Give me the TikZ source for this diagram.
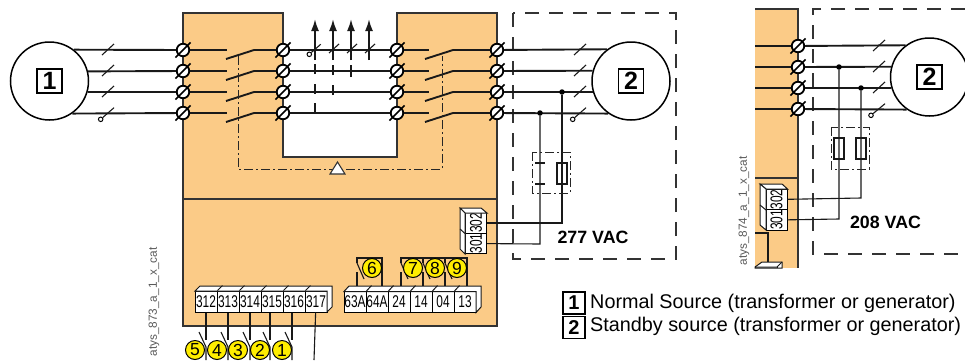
\documentclass[tikz,border=0pt]{standalone}
\usepackage{fontspec}
\setmainfont{Liberation Sans}
\newfontfamily\narrowfont[FakeStretch=0.7]{Liberation Sans}
\usetikzlibrary{positioning,arrows.meta}
\definecolor{panel}{HTML}{FBCB87}
\definecolor{lemon}{HTML}{FFED00}
\definecolor{edge}{HTML}{333333}
\begin{document}
\begin{tikzpicture}[x=1pt,y=-1pt,node distance=21pt,on grid,
	wire/.style={line width=1.9pt,draw=black!90},
	thinwire/.style={line width=1.1pt,draw=black!90},
	wall/.style={line width=1.1pt,draw=edge},
	dashdot/.style={line width=1pt,draw=black!85,dash pattern=on 9pt off 3pt on 2pt off 3pt},
	outer/.style={line width=1.2pt,draw=black!80,dash pattern=on 14pt off 10pt},
	screw/.style={circle,draw,fill=white,line width=1.8pt,inner sep=0pt,minimum size=12.5pt,append after command={(\tikzlastnode.south west) edge[line width=1.7pt,shorten <=-3.5pt,shorten >=-3.5pt] (\tikzlastnode.north east)}},
	source/.style={circle,draw,fill=white,line width=1.5pt,inner sep=0pt,minimum size=78pt},
	numbox/.style={draw,line width=1.1pt,inner sep=0pt,minimum width=25pt,minimum height=24pt,font=\fontsize{25}{25}\selectfont\bfseries},
	keybox/.style={draw,line width=1.1pt,inner sep=0pt,minimum width=22pt,minimum height=22pt,font=\fontsize{20}{20}\selectfont\bfseries},
	cell/.style={draw,fill=white,line width=1pt,inner sep=0pt,minimum width=22pt,minimum height=21pt,font=\narrowfont\fontsize{17}{17}\selectfont},
	badge/.style={circle,draw,fill=lemon,line width=1pt,inner sep=0pt,minimum size=19pt,font=\fontsize{17.5}{17.5}\selectfont},
	tap/.style={circle,fill=black,inner sep=0pt,minimum size=5.5pt},
	ring/.style={circle,draw,fill=white,line width=1pt,inner sep=0pt,minimum size=4.5pt},
	tagtext/.style={rotate=90,text=black!65,font=\fontsize{11.8}{12}\selectfont},
	voltage/.style={font=\fontsize{17.8}{18}\selectfont\bfseries},
	legend/.style={anchor=base west,inner sep=0pt,font=\fontsize{19.8}{20}\selectfont}]
	\useasboundingbox (0,0) rectangle (965,360);

	\filldraw[wall,fill=panel] (183,13) -- (283,13) -- (283,157) -- (397,157) -- (397,13) -- (497,13) -- (497,326) -- (183,326) -- cycle;
	\draw[wall] (183,199) -- (497,199);
	\fill[panel] (755,9) rectangle (798,268);
	\draw[wall] (755,9) -- (798,9) -- (798,268);
	\draw[wall] (755,178) -- (798,178);
	\draw[outer] (513,13) rectangle (676,259);
	\draw[outer] (965,9) -- (813,9) -- (813,254) -- (965,254);

	\node[source]				(s1)	at (49.5,81)	{};
	\node[source]				(s2)	at (631,81)		{};
	\node[source]				(s3)	at (929.5,77)	{};
	\node[numbox]				(l1)	at (s1)			{1};
	\node[numbox]				(l2)	at (s2)			{2};
	\node[numbox]				(l3)	at (s3)			{2};

	\node[screw]				(a1)	at (183,50)		{};
	\node[screw,right=100pt of a1]	(b1)	{};
	\node[screw,right=114pt of b1]	(c1)	{};
	\node[screw,right=100pt of c1]	(d1)	{};
	\node[screw]				(e1)	at (798,46)		{};
	\foreach \col in {a,b,c,d,e} {
		\node[screw,below=of \col1]	(\col2)	{};
		\node[screw,below=of \col2]	(\col3)	{};
		\node[screw,below=of \col3]	(\col4)	{};
	}

	\foreach \i/\y/\ang in {1/50/52.6,2/71/14.9,3/92/-16.4,4/113/-55.1} {
		\coordinate	(p\i)	at (227,\y);
		\coordinate	(q\i)	at (254,\y);
		\coordinate	(u\i)	at (429,\y);
		\coordinate	(v\i)	at (453,\y);
		\draw[wire] (s1.\ang) -- (a\i);
		\draw[wire] (a\i) -- (p\i);
		\draw[wire] (q\i) -- (b\i);
		\draw[wire] (b\i) -- (c\i);
		\draw[wire] (c\i) -- (u\i);
		\draw[wire] (v\i) -- (d\i);
		\draw[wire] (d\i) -- (s2.180-\ang);
		\draw[wire] (e\i) -- (s3.180-\ang);
		\draw[wire] (e\i) -- (e\i -| 755,0);
		\draw[wire] (226,\y+9) -- (q\i);
		\draw[wire] (425,\y+9) -- (v\i);
	}

	\foreach \x/\y in {108/50,108/71,108/92,580/50,580/71,580/92} {
		\draw[thinwire] (\x-6,\y+5) -- (\x+6,\y-6);
	}
	\foreach \x/\y in {879/46,879/67,879/88} {
		\draw[thinwire] (\x-6,\y+5) -- (\x+6,\y-6);
	}
	\node[ring]					(r1)	at (100.7,119.3)	{};
	\node[ring]					(r2)	at (572.7,119.3)	{};
	\node[ring]					(r3)	at (871,115.3)		{};
	\node[ring]					(r4)	at (309.3,54.3)		{};
	\draw[thinwire] (r1) -- (114,107.7);
	\draw[thinwire] (r2) -- (586,107.7);
	\draw[thinwire] (r3) -- (885,103.7);
	\draw[thinwire] (r4) -- (320.7,44.3);
	\foreach \x in {333,351,369} {
		\draw[thinwire] (\x-4,53) -- (\x+6,44);
	}

	\foreach \x in {315,333,351,369} {
		\draw[wire,-{Latex[length=12pt,width=8pt]}] (\x,60) -- (\x,19);
	}
	\draw[wire,dash pattern=on 10pt off 9.5pt] (315,113) -- (315,60);
	\draw[wire,dash pattern=on 10pt off 10pt] (333,95) -- (333,62);
	\draw[wire] (351,77) -- (351,65);

	\draw[dashdot] (238,56) -- (238,169) -- (442,169) -- (442,56);
	\filldraw[wall,fill=white] (337.5,162) -- (345,174) -- (330,174) -- cycle;

	\node[tap]					(t1)	at (562,92)		{};
	\node[tap]					(t2)	at (540,113)	{};
	\node[tap]					(t3)	at (861,88)		{};
	\node[tap]					(t4)	at (839,67)		{};
	\node[cell,rotate=90,minimum width=20.5pt]	(n302)	at (476,223)	{302};
	\node[cell,rotate=90,minimum width=20.5pt]	(n301)	at (476,243.5)	{301};
	\node[cell,rotate=90,minimum width=20.5pt]	(m302)	at (776.5,199.5)	{302};
	\node[cell,rotate=90,minimum width=20.5pt]	(m301)	at (776.5,220)	{301};
	\filldraw[thinwire,line width=1pt,fill=white] (465,213) -- (460,208) -- (481,208) -- (487,213) -- cycle;
	\filldraw[thinwire,line width=1pt,fill=white] (465,213) -- (460,208) -- (460,249) -- (465,254) -- cycle;
	\draw[thinwire,line width=1pt] (460,229) -- (465,233.5);
	\filldraw[thinwire,line width=1pt,fill=white] (766,189) -- (760,184) -- (782,184) -- (787.5,189) -- cycle;
	\filldraw[thinwire,line width=1pt,fill=white] (766,189) -- (760,184) -- (760,225) -- (766,230) -- cycle;
	\draw[thinwire,line width=1pt] (760,205) -- (766,210);
	\coordinate	(w1)	at (562,223);
	\coordinate	(w2)	at (540,244);
	\coordinate	(w3)	at (861,198);
	\coordinate	(w4)	at (839,219);
	\draw[thinwire] (t1) -- (w1) -- (n302);
	\draw[thinwire] (t2) -- (w2) -- (n301);
	\draw[thinwire] (t3) -- (w3) -- (m302);
	\draw[thinwire] (t4) -- (w4) -- (m301);

	\draw[dashdot] (532,152) rectangle (570,193);
	\draw[thinwire] (535,163) -- (545,163);
	\draw[thinwire] (535,184) -- (545,184);
	\draw[thinwire] (557,163) rectangle (567,184);
	\draw[dashdot] (831,127) rectangle (869,169);
	\draw[thinwire] (834,138) rectangle (844,159);
	\draw[thinwire] (856,138) rectangle (866,159);

	\node[cell]					(n312)	at (206,301.5)	{312};
	\node[cell,right=22pt of n312]	(n313)	{313};
	\node[cell,right=22pt of n313]	(n314)	{314};
	\node[cell,right=22pt of n314]	(n315)	{315};
	\node[cell,right=22pt of n315]	(n316)	{316};
	\node[cell,right=22pt of n316]	(n317)	{317};
	\filldraw[thinwire,line width=1pt,fill=white] (195,291) -- (200,286) -- (332,286) -- (332,307) -- (327,312) -- (327,291) -- cycle;
	\foreach \c in {n312,n313,n314,n315,n316} {
		\draw[thinwire,line width=1pt] (\c.north east) -- ++(5,-5);
	}

	\node[cell]					(n63A)	at (355,302)	{63A};
	\node[cell,right=22pt of n63A]	(n64A)	{64A};
	\node[cell,right=22pt of n64A]	(n24)	{24};
	\node[cell,right=22pt of n24]	(n14)	{14};
	\node[cell,right=22pt of n14]	(n04)	{04};
	\node[cell,right=22pt of n04]	(n13)	{13};
	\filldraw[thinwire,line width=1pt,fill=white] (344,291.5) -- (349,286) -- (481,286) -- (481,307) -- (476,312.5) -- (476,291.5) -- cycle;
	\foreach \c in {n63A,n64A,n24,n14,n04} {
		\draw[thinwire,line width=1pt] (\c.north east) -- ++(5,-5.5);
	}

	\foreach \c/\x in {n312/206,n313/228,n314/250,n315/270,n316/292} {
		\coordinate	(g\x)	at (\x,340);
		\draw[thinwire] (\c.south -| g\x) -- (g\x);
		\draw[thinwire] (\x-7,332) -- (\x,347) -- (\x,360);
	}
	\coordinate	(g314)	at (314,360);
	\draw[thinwire] (n317) -- (g314);

	\draw[thinwire] (357,263) -- (357,258) -- (382,258) -- (382,286);
	\draw[thinwire] (401,263) -- (401,258) -- (467,258) -- (467,286);
	\foreach \x in {357,401,423,445} {
		\draw[thinwire] (\x,263) -- (\x+7,279);
		\draw[thinwire] (\x,272) -- (\x,286);
	}
	\draw[thinwire] (423,258) -- (423,263);
	\draw[thinwire] (445,258) -- (445,263);

	\draw[thinwire] (755,233) -- (768,233) -- (768,262);
	\filldraw[thinwire,line width=1pt,fill=white] (755,267) -- (762,262) -- (782,262) -- (782,268) -- (755,268) -- cycle;
	\draw[thinwire,line width=1pt] (755,267) -- (777,267) -- (782,262);
	\draw[thinwire,line width=1pt] (777,267) -- (777,268);

	\node[badge]				(k5)	at (195,350)	{5};
	\node[badge]				(k4)	at (217,350)	{4};
	\node[badge]				(k3)	at (238,350)	{3};
	\node[badge]				(k2)	at (260,350)	{2};
	\node[badge]				(k1)	at (282,350)	{1};
	\node[badge]				(k6)	at (372,268)	{6};
	\node[badge]				(k7)	at (413,268)	{7};
	\node[badge]				(k8)	at (435,268)	{8};
	\node[badge]				(k9)	at (457,268)	{9};

	\node[voltage]				(v1)	at (593,237)	{277 VAC};
	\node[voltage]				(v2)	at (885.5,222)	{208 VAC};
	\node[tagtext]				(x1)	at (154,302)	{atys\_873\_a\_1\_x\_cat};
	\node[tagtext]				(x2)	at (744,211)	{atys\_874\_a\_1\_x\_cat};

	\node[keybox]				(i1)	at (574,303)	{1};
	\node[keybox]				(i2)	at (574,327.5)	{2};
	\node[legend]				(j1)	at (590,308)	{Normal Source (transformer or generator)};
	\node[legend]				(j2)	at (590,331.5)	{Standby source (transformer or generator)};
\end{tikzpicture}
\end{document}
